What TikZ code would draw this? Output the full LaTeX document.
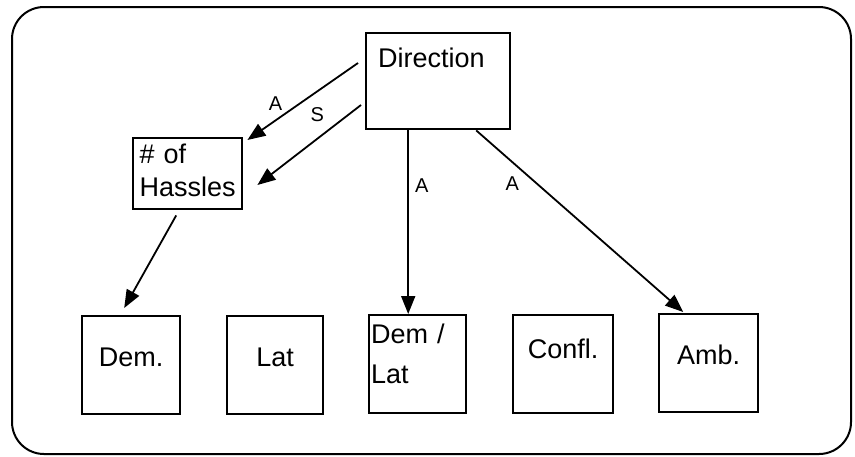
\documentclass[tikz,border=0pt]{standalone}
\usepackage{fontspec}
\setmainfont{Liberation Sans}
\usetikzlibrary{arrows.meta, calc, positioning}

\begin{document}
\begin{tikzpicture}[x=0.5pt, y=-0.5pt,
    box/.style={draw, line width=1.2pt, anchor=north west, font=\fontsize{13.5}{16}\selectfont, text height=9pt},
    arr/.style={-{Triangle[length=9pt, width=7pt]}, line width=0.9pt},
    lab/.style={font=\fontsize{10}{11}\selectfont}]
    \useasboundingbox (0,0) rectangle (855,456);

    % Frame
    \draw[line width=1pt, rounded corners=16pt] (12,7) rectangle (851,454);

    % Upper boxes
    \node[box, align=left, text width=60pt, inner xsep=6pt, inner ysep=8pt, text depth=23pt] (dir) at (365,32) {Direction};
    \node[box, align=left, text width=48pt, inner xsep=3.25pt, inner ysep=3.5pt, text depth=19.5pt] (hass) at (132,137) {\# of\\[0.5pt]Hassles};

    % Lower boxes
    \node[box, minimum width=49pt, inner ysep=16pt, text depth=8pt] (dem) at (81,315) {Dem.};
    \node[box, minimum width=48pt, inner ysep=16pt, text depth=8pt] (lat) at (226,315) {Lat};
    \node[box, align=left, text width=46.5pt, inner xsep=1pt, inner ysep=5pt, text depth=30pt] (demlat) at (368,314) {Dem /\\[4pt]Lat};
    \node[box, minimum width=50pt, inner ysep=12.5pt, text depth=15pt] (confl) at (512,314) {Confl.};
    \node[box, minimum width=49.5pt, inner ysep=16pt, text depth=8pt] (amb) at (658,313) {Amb.};

    % Arrows from Direction
    \draw[arr] ($(dir.north west)+(-7,31)$) -- node[lab, pos=0.66, above left, inner sep=1pt] {A} ($(hass.north east)+(4,3)$);
    \draw[arr] ($(dir.north west)+(-4,73)$) -- node[lab, pos=0.29, above left, inner sep=3pt] {S} ($(hass.north east)+(14,48)$);
    \coordinate (vtop) at ($(dir.south)+(-30,0)$);
    \draw[arr] (vtop) -- node[lab, pos=0.3, right, inner sep=3pt] {A} (vtop |- demlat.north);
    \draw[arr] ($(dir.south)+(38,0)$) -- node[lab, pos=0.23, below left, inner sep=2pt] {A} ($(amb.north)+(-25.5,-1)$);

    % Arrow from Hassles
    \draw[arr] ($(hass.south)+(-11.5,5)$) -- ($(dem.north)+(-7,-7)$);
\end{tikzpicture}
\end{document}
